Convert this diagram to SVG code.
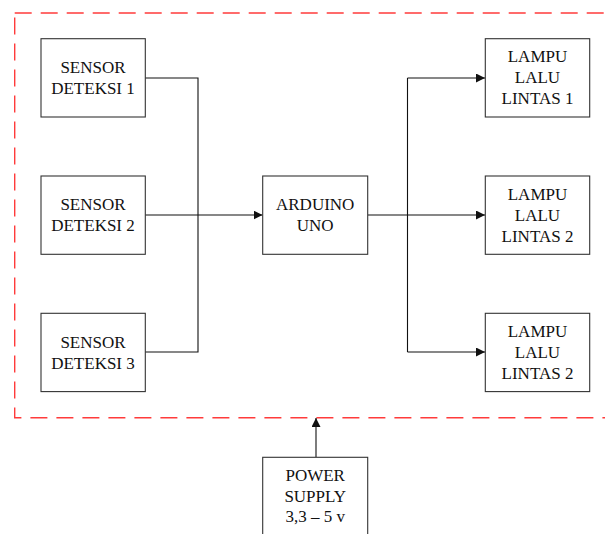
<svg xmlns="http://www.w3.org/2000/svg" width="605" height="534" viewBox="0 0 605 534">
<style>
.box{fill:#fff;stroke:#333;stroke-width:1.1}
.t{font-family:"Liberation Serif","Times New Roman","DejaVu Serif",serif;font-size:17px;fill:#111;text-anchor:middle}
.ln{fill:none;stroke:#111;stroke-width:1.1}
.border{fill:none;stroke:#ff3b3b;stroke-width:1.4;stroke-dasharray:17 9}
</style>
<defs>
<marker id="ah" viewBox="0 0 10 10" refX="10" refY="5" markerWidth="9" markerHeight="9" markerUnits="userSpaceOnUse" orient="auto">
<path d="M0,0 L10,5 L0,10 z" fill="#111"/>
</marker>
</defs>
<rect class="border" x="14.7" y="13" width="620" height="404.7"/>
<g id="connectors">
<polyline class="ln" points="145,78 198,78 198,352 145,352"/>
<line class="ln" x1="145" y1="215" x2="262.5" y2="215" marker-end="url(#ah)"/>
<line class="ln" x1="368" y1="215" x2="485" y2="215" marker-end="url(#ah)"/>
<line class="ln" x1="407.5" y1="78" x2="407.5" y2="352"/>
<line class="ln" x1="407.5" y1="78" x2="485" y2="78" marker-end="url(#ah)"/>
<line class="ln" x1="407.5" y1="352" x2="485" y2="352" marker-end="url(#ah)"/>
<line class="ln" x1="316" y1="457" x2="316" y2="418" marker-end="url(#ah)"/>
</g>
<g id="sensor1">
<rect class="box" x="41" y="38.7" width="104.3" height="78.3"/>
<text class="t" x="93" y="73.3">SENSOR</text>
<text class="t" x="93" y="94">DETEKSI 1</text>
</g>
<g id="sensor2">
<rect class="box" x="41" y="176" width="104.3" height="78.3"/>
<text class="t" x="93" y="210">SENSOR</text>
<text class="t" x="93" y="230.7">DETEKSI 2</text>
</g>
<g id="sensor3">
<rect class="box" x="41" y="313.3" width="104.3" height="78.3"/>
<text class="t" x="93" y="348.3">SENSOR</text>
<text class="t" x="93" y="369">DETEKSI 3</text>
</g>
<g id="arduino">
<rect class="box" x="262.7" y="176" width="105" height="78.3"/>
<text class="t" x="315.2" y="210">ARDUINO</text>
<text class="t" x="315.2" y="230.7">UNO</text>
</g>
<g id="lampu1">
<rect class="box" x="485.3" y="38.7" width="104.4" height="78.3"/>
<text class="t" x="537.5" y="62">LAMPU</text>
<text class="t" x="537.5" y="82.7">LALU</text>
<text class="t" x="537.5" y="104">LINTAS 1</text>
</g>
<g id="lampu2">
<rect class="box" x="485.3" y="176" width="104.4" height="78.3"/>
<text class="t" x="537.5" y="200">LAMPU</text>
<text class="t" x="537.5" y="221">LALU</text>
<text class="t" x="537.5" y="242">LINTAS 2</text>
</g>
<g id="lampu3">
<rect class="box" x="485.3" y="313.3" width="104.4" height="78.3"/>
<text class="t" x="537.5" y="336.7">LAMPU</text>
<text class="t" x="537.5" y="357.7">LALU</text>
<text class="t" x="537.5" y="379">LINTAS 2</text>
</g>
<g id="power">
<rect class="box" x="262.7" y="457.3" width="105" height="90"/>
<text class="t" x="315.2" y="481">POWER</text>
<text class="t" x="315.2" y="501.7">SUPPLY</text>
<text class="t" x="315.2" y="521.7">3,3 – 5 v</text>
</g>
</svg>
